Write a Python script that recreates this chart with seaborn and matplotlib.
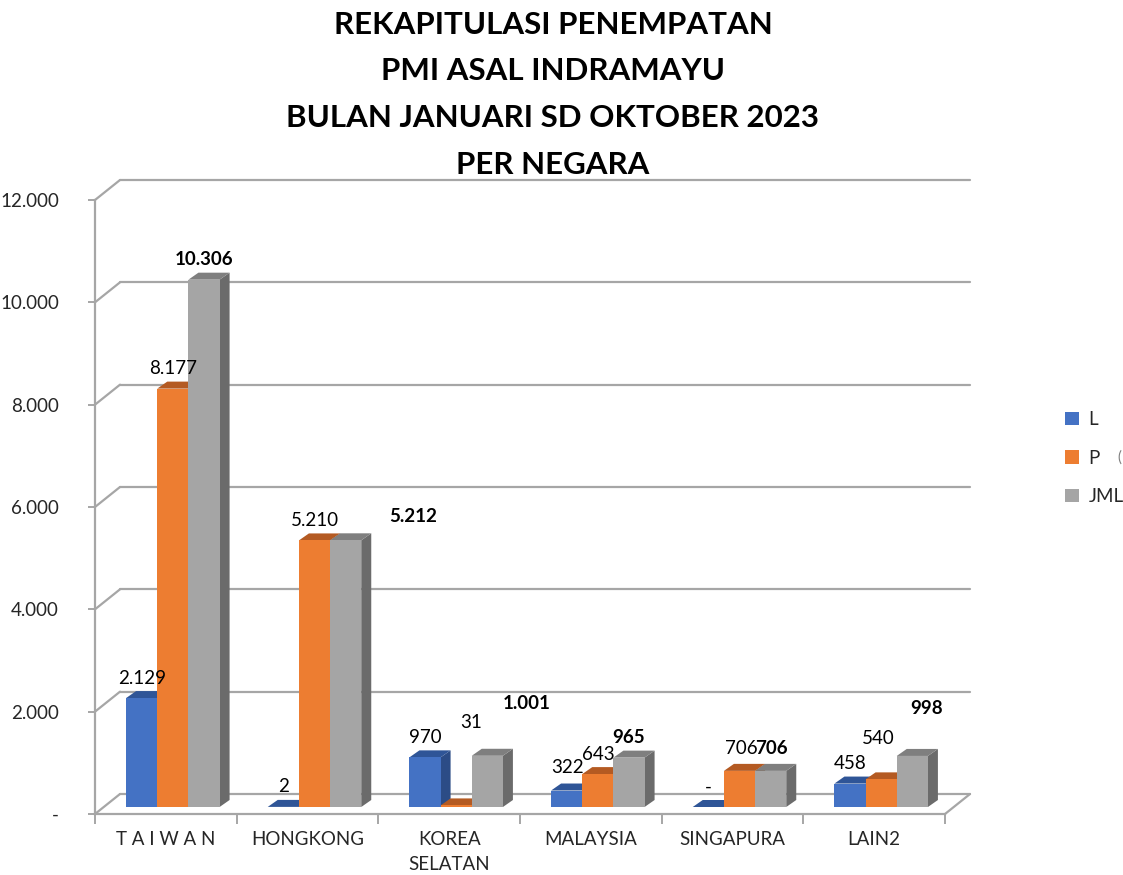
import matplotlib
matplotlib.use("Agg")
import matplotlib.pyplot as plt
import numpy as np
import pandas as pd
import seaborn as sns
from matplotlib.patches import Polygon, Patch
from matplotlib.lines import Line2D

# ---------------- data ----------------
categories = ["T A I W A N", "HONGKONG", "KOREA\nSELATAN", "MALAYSIA", "SINGAPURA", "LAIN2"]
series = ["L", "P", "JML"]
values_L = [2129, 2, 970, 322, 0, 458]
values_P = [8177, 5210, 31, 643, 706, 540]
values_JML = [10306, 5212, 1001, 965, 706, 998]
y_ticks = [0, 2000, 4000, 6000, 8000, 10000, 12000]
title_lines = ["REKAPITULASI PENEMPATAN", "PMI ASAL INDRAMAYU",
               "BULAN JANUARI SD OKTOBER 2023", "PER NEGARA"]

# ---------------- style ----------------
front_colors = ["#4472C4", "#ED7D31", "#A5A5A5"]
top_colors = ["#2F5597", "#B45A22", "#7F7F7F"]
side_colors = ["#2C4C86", "#A24F1B", "#6B6B6B"]
grid_color = "#A6A6A6"

# label nudges (pixels, right / up) for Excel-like label placement
label_nudge = {
    ("JML", 1): (67, 4),
    ("P", 2): (15, 63),
    ("JML", 2): (39, 32),
    ("L", 3): (1, 3),
    ("P", 4): (2, 2),
    ("JML", 4): (1, 2),
    ("P", 5): (-3, 21),
    ("JML", 5): (14, 27),
}

sns.set_style("white")
plt.rcParams["font.family"] = ["Lato", "DejaVu Sans"]

def fmt(v):
    return "-" if v == 0 else f"{v:,}".replace(",", ".")

W, H = 1123, 875
fig = plt.figure(figsize=(W / 100, H / 100), dpi=100)
AX_L, AX_R, AX_B, AX_T = 95, 945, 814, 200
ax = fig.add_axes([AX_L / W, 1 - AX_B / H, (AX_R - AX_L) / W, (AX_B - AX_T) / H])

df = pd.DataFrame({
    "Negara": categories * 3,
    "Seri": np.repeat(series, len(categories)),
    "Jumlah": values_L + values_P + values_JML,
})

sns.barplot(data=df, x="Negara", y="Jumlah", hue="Seri", hue_order=series,
            order=categories, palette=front_colors, saturation=1, width=0.66,
            ax=ax, legend=False, linewidth=0)

ax.set_xlim(-0.5, len(categories) - 0.5)
ax.set_ylim(0, 12000)

px_x = (AX_R - AX_L) / len(categories)
px_y = (AX_B - AX_T) / 12000.0
def dx(p):
    return p / px_x
def dy(p):
    return p / px_y

# back wall / floor geometry
BX, BY = dx(25), dy(20)
x0a, x1a = -0.5, len(categories) - 0.5
for v in y_ticks:
    ax.add_line(Line2D([x0a + BX, x1a + BX], [v + BY, v + BY], color=grid_color,
                       lw=1.6, clip_on=False, zorder=1))
    ax.add_line(Line2D([x0a, x0a + BX], [v, v + BY], color=grid_color,
                       lw=1.6, clip_on=False, zorder=1))
# floor right edge
ax.add_line(Line2D([x1a, x1a + BX], [0, BY], color=grid_color, lw=1.6,
                   clip_on=False, zorder=1))

# 3D bars
SHX, SHY = dx(7), dy(7)
DPX, DPY = dx(10), dy(7)
all_vals = {"L": values_L, "P": values_P, "JML": values_JML}
for k, cont in enumerate(ax.containers):
    s = series[k]
    for j, bar in enumerate(cont.patches):
        bar.set_x(bar.get_x() + SHX)
        bar.set_y(SHY)
        bar.set_clip_on(False)
        bar.set_zorder(5 + 3 * k)
        x0 = bar.get_x()
        w = bar.get_width()
        h = bar.get_height()
        top = SHY + h
        side = Polygon([(x0 + w, SHY), (x0 + w + DPX, SHY + DPY),
                        (x0 + w + DPX, top + DPY), (x0 + w, top)],
                       closed=True, facecolor=side_colors[k], edgecolor="none",
                       clip_on=False, zorder=3 + 3 * k)
        topf = Polygon([(x0, top), (x0 + w, top), (x0 + w + DPX, top + DPY),
                        (x0 + DPX, top + DPY)],
                       closed=True, facecolor=top_colors[k], edgecolor="none",
                       clip_on=False, zorder=4 + 3 * k)
        ax.add_patch(side)
        ax.add_patch(topf)
        v = all_vals[s][j]
        nx, ny = label_nudge.get((s, j), (0, 0))
        ax.text(x0 + w / 2 + dx(nx), top + dy(20 + ny), fmt(v),
                ha="center", va="center", fontsize=13.5, color="#000000",
                fontweight="bold" if s == "JML" else "normal",
                clip_on=False, zorder=30)

# axes / ticks
for sp in ["top", "right"]:
    ax.spines[sp].set_visible(False)
for sp in ["left", "bottom"]:
    ax.spines[sp].set_color(grid_color)
    ax.spines[sp].set_linewidth(1.6)
ax.set_yticks(y_ticks)
ax.set_yticklabels([fmt(v) for v in y_ticks])
ax.tick_params(axis="y", length=5, width=1.4, color=grid_color, pad=21,
               labelsize=13.5, left=True, direction="out")
ax.set_xticks(range(len(categories)))
ax.set_xticklabels(categories)
ax.set_xticks(np.arange(-0.5, len(categories), 1.0), minor=True)
ax.tick_params(axis="x", which="major", length=0, pad=12, labelsize=13.5)
ax.tick_params(axis="x", which="minor", length=7, width=1.4, color=grid_color,
               bottom=True, direction="out")
for t in ax.get_xticklabels():
    t.set_linespacing(1.6)
ax.set_xlabel("")
ax.set_ylabel("")
ax.grid(False)

# title
for i, line in enumerate(title_lines):
    fig.text(553 / W, 1 - (25 + 46.5 * i) / H, line, ha="center", va="center",
             fontsize=22.5, fontweight="bold", color="#000000")

# legend
handles = [Patch(facecolor=c, edgecolor="none") for c in front_colors]
fig.legend(handles=handles, labels=series, loc="center left",
           bbox_to_anchor=(1048 / W, 1 - 458 / H), frameon=False,
           handlelength=0.75, handleheight=0.75, handletextpad=0.5,
           labelspacing=1.15, fontsize=13.5)
fig.text(1117 / W, 1 - 458 / H, "(", ha="left", va="center", fontsize=11,
         color="#7F7F7F")

fig.savefig("out.png", dpi=100, facecolor="white")
